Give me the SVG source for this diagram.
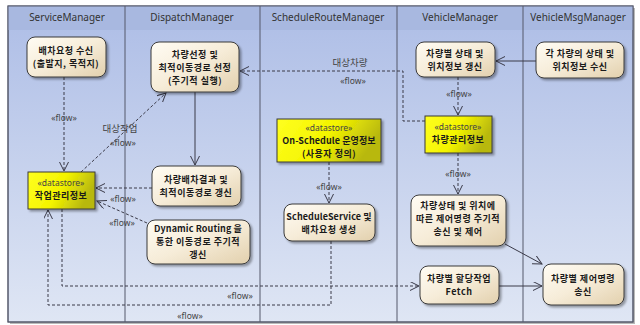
<svg xmlns="http://www.w3.org/2000/svg" width="640" height="325" viewBox="0 0 640 325">
<defs>
<linearGradient id="lane" x1="0" y1="0" x2="0" y2="1">
<stop offset="0" stop-color="#adbde6"/>
<stop offset="1" stop-color="#dfe6f4"/>
</linearGradient>
<linearGradient id="act" x1="0" y1="0" x2="1" y2="1">
<stop offset="0" stop-color="#fffcf4"/>
<stop offset="0.5" stop-color="#f6ecd8"/>
<stop offset="1" stop-color="#e2d0ad"/>
</linearGradient>
<linearGradient id="ds" x1="0" y1="0" x2="1" y2="0.3">
<stop offset="0" stop-color="#ffff20"/>
<stop offset="0.55" stop-color="#f4f400"/>
<stop offset="1" stop-color="#b8b810"/>
</linearGradient>
<filter id="sh" x="-10%" y="-10%" width="130%" height="140%">
<feDropShadow dx="2" dy="2" stdDeviation="1" flood-color="#000" flood-opacity="0.35"/>
</filter>
<marker id="ar" markerUnits="userSpaceOnUse" markerWidth="11" markerHeight="10" refX="9" refY="4.5" orient="auto">
<path d="M0,0 L9,4.5 L0,9" fill="none" stroke="#3a3a48" stroke-width="1" stroke-dasharray="none"/>
</marker>
</defs>
<style>
.lt{font-family:"Noto Sans","Liberation Sans",sans-serif;font-size:10px;fill:#333;text-anchor:middle}
.nt{font-family:"Noto Sans CJK KR","Noto Sans",sans-serif;font-size:9px;letter-spacing:0.5px;font-weight:bold;fill:#1a1a1a;text-anchor:middle}
.la{letter-spacing:0.1px}
.st{font-family:"Noto Sans","Liberation Sans",sans-serif;font-size:8.5px;letter-spacing:0;font-weight:normal;fill:#444}
.fl{font-family:"Noto Sans","Liberation Sans",sans-serif;font-size:8.5px;fill:#444;text-anchor:middle}
.kl{font-family:"Noto Sans CJK KR",sans-serif;font-size:9.5px;fill:#444;text-anchor:middle}
.act{fill:url(#act);stroke:#3a3a3a;stroke-width:1;filter:url(#sh)}
.dsb{fill:url(#ds);stroke:#3a3a3a;stroke-width:1;filter:url(#sh)}
.dash{fill:none;stroke:#3a3a48;stroke-width:1;stroke-dasharray:3,2;marker-end:url(#ar)}
.sol{fill:none;stroke:#3a3a48;stroke-width:1;marker-end:url(#ar)}
.ln{stroke:#55596a;stroke-width:1}
</style>
<g id="frame">
<rect x="10" y="8" width="625" height="316" fill="#8a8a8a" opacity="0.6"/>
<rect x="8" y="6" width="625" height="316" fill="url(#lane)" stroke="#55596a" stroke-width="1"/>
<rect x="8" y="6" width="625" height="24" fill="#a8b8e0"/>
<line class="ln" x1="125" y1="6" x2="125" y2="322"/>
<line class="ln" x1="260" y1="6" x2="260" y2="322"/>
<line class="ln" x1="397" y1="6" x2="397" y2="322"/>
<line class="ln" x1="523" y1="6" x2="523" y2="322"/>
<rect x="8" y="6" width="625" height="316" fill="none" stroke="#55596a" stroke-width="1"/>
<text class="lt" x="67" y="21">ServiceManager</text>
<text class="lt" x="192" y="21">DispatchManager</text>
<text class="lt" x="328" y="21">ScheduleRouteManager</text>
<text class="lt" x="460" y="21">VehicleManager</text>
<text class="lt" x="578" y="21">VehicleMsgManager</text>
</g>
<g id="connectors">
<path class="dash" d="M64,77 L64,171"/>
<path class="dash" d="M81,172 L166,93"/>
<path class="sol" d="M195,92 L195,165"/>
<path class="dash" d="M152,188 L96,188"/>
<path class="dash" d="M147,223 L97,201"/>
<path class="dash" d="M425,121 L403,121 L403,71 L240,71"/>
<path class="sol" d="M536,61 L496,61"/>
<path class="dash" d="M458,77 L458,115"/>
<path class="dash" d="M458,153 L458,194"/>
<path class="dash" d="M329,162 L329,203"/>
<path class="dash" d="M331,241 L331,305 L48,305 L48,210"/>
<path class="dash" d="M62,209 L62,286 L419,286"/>
<path class="sol" d="M505,244 L542,264"/>
<path class="sol" d="M499,286 L542,286"/>
<text class="fl" x="64" y="121">«flow»</text>
<text class="kl" x="120" y="132">대상작업</text>
<text class="fl" x="123" y="146">«flow»</text>
<text class="fl" x="123" y="202">«flow»</text>
<text class="fl" x="122" y="226">«flow»</text>
<text class="kl" x="350" y="66">대상차량</text>
<text class="fl" x="353" y="84">«flow»</text>
<text class="fl" x="459" y="97">«flow»</text>
<text class="fl" x="458" y="177">«flow»</text>
<text class="fl" x="329" y="190">«flow»</text>
<text class="fl" x="240" y="299">«flow»</text>
<text class="fl" x="190" y="319">«flow»</text>
</g>
<g id="n1">
<rect class="act" x="27" y="37" width="79" height="40" rx="8"/>
<text class="nt" x="66" y="54">배차요청 수신<tspan x="66" dy="13.2">(출발지, 목적지)</tspan></text>
</g>
<g id="n2">
<rect class="act" x="151" y="42" width="88" height="50" rx="8"/>
<text class="nt" x="195" y="57.5">차량선정 및<tspan x="195" dy="13.2">최적이동경로 선정</tspan><tspan x="195" dy="13.2">(주기적 실행)</tspan></text>
</g>
<g id="n3">
<rect class="act" x="416" y="42" width="79" height="35" rx="8"/>
<text class="nt" x="455" y="56.5">차량별 상태 및<tspan x="455" dy="13.2">위치정보 갱신</tspan></text>
</g>
<g id="n4">
<rect class="act" x="536" y="42" width="88" height="36" rx="8"/>
<text class="nt" x="580" y="56.5">각 차량의 상태 및<tspan x="580" dy="13.2">위치정보 수신</tspan></text>
</g>
<g id="ds1">
<rect class="dsb" x="28" y="172" width="67" height="37"/>
<text class="nt" x="61" y="186"><tspan class="st">«datastore»</tspan><tspan x="61" dy="13.2">작업관리정보</tspan></text>
</g>
<g id="n6">
<rect class="act" x="152" y="166" width="89" height="40" rx="8"/>
<text class="nt" x="196" y="183">차량배차결과 및<tspan x="196" dy="13.2">최적이동경로 갱신</tspan></text>
</g>
<g id="n7">
<rect class="act" x="147" y="220" width="103" height="44" rx="8"/>
<text class="nt" x="198" y="232"><tspan class="la">Dynamic Routing 을</tspan><tspan x="198" dy="13.2">통한 이동경로 주기적</tspan><tspan x="198" dy="13.2">갱신</tspan></text>
</g>
<g id="ds2">
<rect class="dsb" x="277" y="119" width="104" height="43"/>
<text class="nt" x="329" y="131"><tspan class="st">«datastore»</tspan><tspan class="la" x="329" dy="13.2">On-Schedule 운영정보</tspan><tspan x="329" dy="13.2">(사용자 정의)</tspan></text>
</g>
<g id="n9">
<rect class="act" x="284" y="204" width="91" height="37" rx="8"/>
<text class="nt" x="329" y="219.5"><tspan class="la">ScheduleService 및</tspan><tspan x="329" dy="13.2">배차요청 생성</tspan></text>
</g>
<g id="ds3">
<rect class="dsb" x="425" y="116" width="67" height="37"/>
<text class="nt" x="458" y="130"><tspan class="st">«datastore»</tspan><tspan x="458" dy="13.2">차량관리정보</tspan></text>
</g>
<g id="n11">
<rect class="act" x="411" y="195" width="95" height="51" rx="8"/>
<text class="nt" x="458" y="208.5">차량상태 및 위치에<tspan x="458" dy="13.2">따른 제어명령 주기적</tspan><tspan x="458" dy="13.2">송신 및 제어</tspan></text>
</g>
<g id="n12">
<rect class="act" x="420" y="266" width="79" height="38" rx="8"/>
<text class="nt" x="459" y="282">차량별 할당작업<tspan x="459" dy="13.2">Fetch</tspan></text>
</g>
<g id="n13">
<rect class="act" x="543" y="264" width="81" height="41" rx="8"/>
<text class="nt" x="583" y="281.5">차량별 제어명령<tspan x="583" dy="13.2">송신</tspan></text>
</g>
</svg>
